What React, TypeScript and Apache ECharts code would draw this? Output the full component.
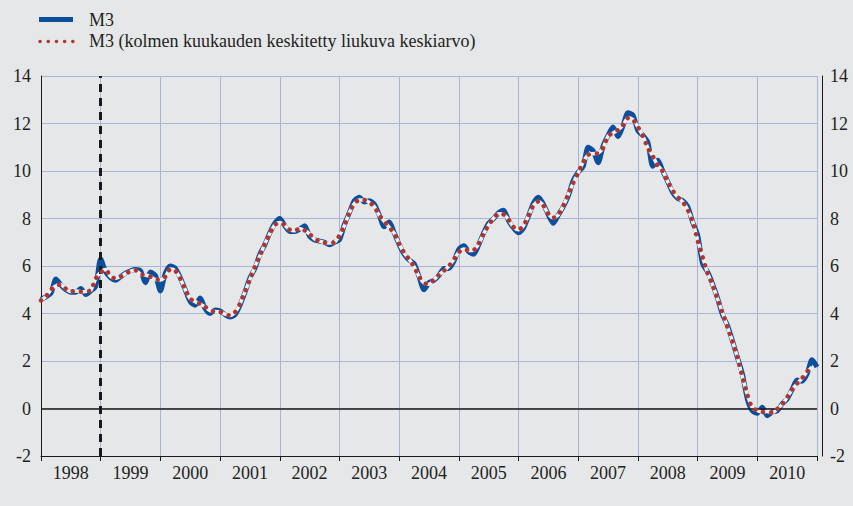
import React, { useEffect, useRef } from "react";
import * as echarts from "echarts";

// Monthly observations, Jan 1998 (index 0) .. Jan 2011 (index 156)
const m3Monthly: number[] = [
  4.6, 4.7, 4.85, 5.45, 5.2, 5.0, 4.9, 4.9, 5.05, 4.8, 4.95, 5.15,
  6.3, 5.75, 5.5, 5.4, 5.55, 5.7, 5.8, 5.85, 5.8, 5.3, 5.75, 5.6,
  4.95, 5.7, 6.0, 5.9, 5.5, 5.0, 4.5, 4.35, 4.65, 4.2, 4.0, 4.15,
  4.1, 3.95, 3.85, 3.95, 4.35, 4.9, 5.5, 5.9, 6.5, 6.9, 7.4, 7.8,
  8.0, 7.7, 7.45, 7.45, 7.55, 7.7, 7.25, 7.1, 7.05, 7.0, 6.9, 7.0,
  7.1, 7.75, 8.25, 8.75, 8.9, 8.7, 8.75, 8.6, 8.15, 7.65, 7.85, 7.4,
  6.9, 6.5, 6.25, 6.1, 5.55, 5.0, 5.3, 5.4, 5.6, 5.9, 5.9, 6.2,
  6.7, 6.85, 6.6, 6.5, 6.9, 7.4, 7.8, 8.0, 8.25, 8.35, 7.9, 7.6,
  7.4, 7.6, 8.1, 8.65, 8.9, 8.6, 8.15, 7.8, 8.15, 8.5, 8.95, 9.6,
  9.95, 10.2, 11.0, 10.85, 10.35, 11.05, 11.5, 11.85, 11.45, 11.9, 12.45, 12.35,
  11.7, 11.5, 11.2, 10.2, 10.45, 10.0, 9.55, 9.1, 8.85, 8.75, 8.5, 7.85,
  7.3, 6.1, 5.75, 5.25, 4.65, 3.95, 3.5, 2.85, 2.15, 1.45, 0.4, -0.1,
  -0.2, 0.05, -0.3, -0.15, -0.1, 0.2, 0.4, 0.8, 1.2, 1.15, 1.45, 2.05,
  1.75,
];

// Three-month centred moving average, same months
const m3Average: (number | null)[] = [
  4.55, 4.72, 5.0, 5.17, 5.22, 5.03, 4.93, 4.95, 4.92, 4.93, 4.97, 5.47,
  5.73, 5.85, 5.55, 5.48, 5.55, 5.68, 5.78, 5.82, 5.65, 5.62, 5.55, 5.43,
  5.42, 5.55, 5.87, 5.8, 5.47, 5.0, 4.62, 4.5, 4.4, 4.28, 4.12, 4.08,
  4.07, 3.97, 3.92, 4.05, 4.4, 4.92, 5.43, 5.97, 6.43, 6.93, 7.37, 7.73,
  7.83, 7.72, 7.53, 7.48, 7.57, 7.5, 7.35, 7.13, 7.05, 6.98, 6.97, 7.0,
  7.28, 7.7, 8.25, 8.63, 8.78, 8.78, 8.68, 8.5, 8.13, 7.88, 7.63, 7.38,
  6.93, 6.55, 6.28, 5.97, 5.55, 5.28, 5.23, 5.43, 5.63, 5.8, 6.0, 6.27,
  6.58, 6.72, 6.65, 6.67, 6.93, 7.37, 7.73, 8.02, 8.2, 8.17, 7.95, 7.63,
  7.53, 7.7, 8.12, 8.55, 8.72, 8.55, 8.18, 8.03, 8.15, 8.53, 9.02, 9.5,
  9.92, 10.38, 10.68, 10.73, 10.75, 10.97, 11.47, 11.6, 11.73, 11.93, 12.23, 12.17,
  11.85, 11.47, 10.97, 10.62, 10.22, 10.0, 9.55, 9.17, 8.9, 8.7, 8.37, 7.88,
  7.08, 6.38, 5.7, 5.22, 4.62, 4.03, 3.43, 2.83, 2.15, 1.33, 0.58, 0.03,
  -0.08, -0.15, -0.13, -0.18, -0.02, 0.17, 0.47, 0.8, 1.05, 1.27, 1.55, 1.75,
  null,
];

const years: string[] = [
  "1998", "1999", "2000", "2001", "2002", "2003", "2004",
  "2005", "2006", "2007", "2008", "2009", "2010",
];

const seriesNames: string[] = [
  "M3",
  "M3 (kolmen kuukauden keskitetty liukuva keskiarvo)",
];

const dashedMarkerMonth = 12; // January 1999
const yMin = -2;
const yMax = 14;
const yStep = 2;
const monthCount = 156;

const FONT = "Liberation Serif";
const FONT_SIZE = 18;
const TEXT = "#231f20";
const GRID = "#a9b5d6";
const BLUE = "#0b4f9c";
const RED = "#b2352d";

export default function App() {
  const ref = useRef<HTMLDivElement>(null);

  useEffect(() => {
    if (!ref.current) return;
    const chart = echarts.init(ref.current, undefined, { renderer: "svg" });

    const blueData = m3Monthly.map((v, i) => [i, v]);
    const redData = m3Average.map((v, i) => [i, v]);

    const labelStyle = { color: TEXT, fontFamily: FONT, fontSize: FONT_SIZE };

    chart.setOption({
      animation: false,
      backgroundColor: "#e6e7e9",
      textStyle: { fontFamily: FONT },
      grid: { left: 41, right: 36, top: 76, bottom: 50, containLabel: false },
      xAxis: [
        {
          type: "value",
          min: 0,
          max: monthCount,
          interval: 12,
          axisLine: { show: true, onZero: false, lineStyle: { color: "#1a1a1a", width: 1 } },
          axisTick: { show: true, length: 5, lineStyle: { color: "#1a1a1a", width: 1 } },
          axisLabel: { show: false },
          splitLine: { show: true, lineStyle: { color: GRID, width: 1 } },
        },
        {
          type: "category",
          data: years,
          boundaryGap: true,
          position: "bottom",
          axisLine: { show: false },
          axisTick: { show: false },
          splitLine: { show: false },
          axisLabel: { ...labelStyle, margin: 8 },
        },
      ],
      yAxis: [
        {
          type: "value",
          min: yMin,
          max: yMax,
          interval: yStep,
          position: "left",
          axisTick: { show: false },
          axisLine: { show: true, lineStyle: { color: "#1a1a1a", width: 1 } },
          splitLine: { show: true, lineStyle: { color: GRID, width: 1 } },
          axisLabel: { ...labelStyle, margin: 10 },
        },
        {
          type: "value",
          min: yMin,
          max: yMax,
          interval: yStep,
          position: "right",
          offset: 5,
          axisTick: { show: false },
          axisLine: { show: true, lineStyle: { color: "#1a1a1a", width: 1 } },
          splitLine: { show: false },
          axisLabel: { ...labelStyle, margin: 8 },
        },
      ],
      series: [
        {
          name: seriesNames[0],
          type: "line",
          xAxisIndex: 0,
          yAxisIndex: 0,
          data: blueData,
          showSymbol: false,
          smooth: 0.25,
          lineStyle: { color: BLUE, width: 5, join: "round" },
          z: 3,
          markLine: {
            silent: true,
            symbol: "none",
            label: { show: false },
            data: [
              { xAxis: dashedMarkerMonth, lineStyle: { color: "#1a1a1a", width: 3, type: [8, 6] } },
              { yAxis: 0, lineStyle: { color: "#1a1a1a", width: 1.5, type: "solid" } },
            ],
          },
        },
        {
          name: "halo",
          type: "line",
          xAxisIndex: 0,
          yAxisIndex: 0,
          data: redData,
          showSymbol: false,
          smooth: 0.25,
          lineStyle: { color: "#eef0f3", width: 3.5 },
          z: 4,
        },
        {
          name: seriesNames[1],
          type: "line",
          xAxisIndex: 0,
          yAxisIndex: 0,
          data: redData,
          showSymbol: false,
          smooth: 0.25,
          lineStyle: { color: RED, width: 4.5, type: [0.1, 8], cap: "round" },
          z: 5,
        },
      ],
      graphic: [
        {
          type: "rect",
          left: 39,
          top: 17,
          shape: { width: 34, height: 5 },
          style: { fill: BLUE },
        },
        {
          type: "text",
          x: 89,
          y: 20,
          style: {
            text: seriesNames[0],
            fill: TEXT,
            fontFamily: FONT,
            fontSize: FONT_SIZE,
            verticalAlign: "middle",
          },
        },
        {
          type: "line",
          shape: { x1: 40, y1: 41.5, x2: 73, y2: 41.5 },
          style: { stroke: RED, lineWidth: 3.5, lineDash: [0.1, 8.1], lineCap: "round" },
        },
        {
          type: "text",
          x: 89,
          y: 41,
          style: {
            text: seriesNames[1],
            fill: TEXT,
            fontFamily: FONT,
            fontSize: FONT_SIZE,
            verticalAlign: "middle",
          },
        },
      ],
    });

    return () => chart.dispose();
  }, []);

  return (
    <div
      ref={ref}
      style={{ position: "fixed", left: 0, top: 0, width: 853, height: 506 }}
    />
  );
}
